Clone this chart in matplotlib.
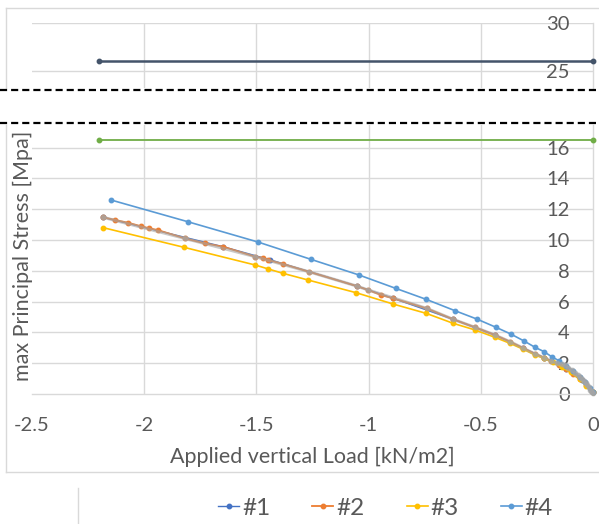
import matplotlib
matplotlib.use("Agg")
import matplotlib.pyplot as plt
from matplotlib.lines import Line2D

plt.rcParams['font.family'] = ['Lato', 'DejaVu Sans']

# ---- data -------------------------------------------------------------
x_ticks = [-2.5, -2, -1.5, -1, -0.5, 0]
x_tick_labels = ['-2.5', '-2', '-1.5', '-1', '-0.5', '0']
y_ticks_low = [0, 2, 4, 6, 8, 10, 12, 14, 16]
y_ticks_high = [25, 30]

series_names = ['#1', '#2', '#3', '#4']

# #1
x1 = [-2.182, -1.647, -1.44, -1.053, -0.89, -0.623, -0.437, -0.31, -0.218, -0.12, -0.05, 0.0]
y1 = [11.47, 9.56, 8.72, 7.01, 6.21, 4.85, 3.83, 2.97, 2.36, 1.6, 0.9, 0.15]

# #2
x2 = [-2.182, -2.13, -2.071, -2.016, -1.977, -1.94, -1.818, -1.729, -1.647, -1.506,
      -1.47, -1.448, -1.381, -1.266, -1.053, -1.001, -0.945, -0.89, -0.741, -0.623,
      -0.526, -0.437, -0.37, -0.31, -0.258, -0.218, -0.189, -0.15, -0.12, -0.09,
      -0.06, -0.03, 0.0]
y2 = [11.47, 11.3, 11.12, 10.9, 10.76, 10.65, 10.1, 9.78, 9.56, 8.92,
      8.83, 8.7, 8.44, 7.94, 7.01, 6.75, 6.43, 6.21, 5.56, 4.85,
      4.33, 3.83, 3.4, 2.97, 2.6, 2.36, 2.16, 1.88, 1.6, 1.3,
      0.98, 0.6, 0.15]

# #3
x3 = [-2.182, -1.821, -1.506, -1.447, -1.38, -1.269, -1.056, -0.89, -0.744, -0.623,
      -0.526, -0.437, -0.37, -0.31, -0.258, -0.218, -0.18, -0.14, -0.1, -0.06,
      -0.03, 0.0]
y3 = [10.8, 9.52, 8.38, 8.12, 7.83, 7.4, 6.58, 5.84, 5.24, 4.59,
      4.16, 3.68, 3.29, 2.9, 2.53, 2.31, 2.05, 1.75, 1.4, 0.95,
      0.55, 0.12]

# #4
x4 = [-2.148, -1.806, -1.493, -1.258, -1.043, -0.879, -0.744, -0.615, -0.518, -0.432,
      -0.367, -0.307, -0.258, -0.218, -0.184, -0.15, -0.12, -0.09, -0.06, -0.035,
      -0.015, 0.0]
y4 = [12.6, 11.19, 9.87, 8.75, 7.73, 6.86, 6.15, 5.41, 4.87, 4.33,
      3.9, 3.44, 3.03, 2.75, 2.42, 2.15, 1.85, 1.5, 1.12, 0.75,
      0.4, 0.1]

# dense grey run
x5 = [-2.182, -1.818, -1.506, -1.266, -1.053, -1.001, -0.741, -0.623, -0.526, -0.437,
      -0.37, -0.31, -0.258, -0.218, -0.189, -0.16, -0.14, -0.125, -0.11, -0.095,
      -0.08, -0.068, -0.058, -0.048, -0.04, -0.032, -0.025, -0.019, -0.013, -0.008,
      -0.004, 0.0]
y5 = [11.47, 10.1, 8.92, 7.94, 7.01, 6.75, 5.56, 4.85, 4.33, 3.83,
      3.4, 2.97, 2.6, 2.36, 2.16, 2.0, 1.93, 1.88, 1.72, 1.55,
      1.38, 1.24, 1.12, 0.98, 0.86, 0.72, 0.6, 0.45, 0.26, 0.17,
      0.1, 0.05]

# horizontal limit lines
x_limit = [-2.2, 0.0]
y_limit_green = [16.5, 16.5]
y_limit_dark = [26.0, 26.0]

# ---- styling ----------------------------------------------------------
C1, C2, C3, C4, C5 = '#4472C4', '#ED7D31', '#FFC000', '#5B9BD5', '#A5A5A5'
C_GREEN, C_DARK = '#70AD47', '#44546A'
GRID = '#D9D9D9'
TXT = '#595959'
TICK_FS = 14.5
TITLE_FS = 15.5

W, H = 599, 524
fig = plt.figure(figsize=(W / 100, H / 100), dpi=100)


def fx(px):
    return px / W


def fy(py):
    return 1 - py / H


left, right = 32, 593
ax_lo = fig.add_axes([fx(left), fy(394), fx(right) - fx(left), fy(125) - fy(394)])
ax_hi = fig.add_axes([fx(left), fy(88), fx(right) - fx(left), fy(23) - fy(88)])

for ax in (ax_lo, ax_hi):
    ax.set_xlim(-2.5, 0)
    ax.set_xticks(x_ticks)
    for s in ('left', 'top', 'bottom'):
        ax.spines[s].set_visible(False)
    ax.spines['right'].set_color(GRID)
    ax.spines['right'].set_linewidth(1.0)
    ax.yaxis.tick_right()
    ax.tick_params(axis='y', length=0, pad=-16.6, labelsize=TICK_FS,
                   labelcolor=TXT, right=False, labelright=True, labelleft=False)
    ax.set_axisbelow(True)

# vertical grid lines (skip the left-most limit)
for ax in (ax_lo, ax_hi):
    for xv in x_ticks[1:-1]:
        ax.axvline(xv, color=GRID, lw=1.0, zorder=0)

# lower panel
ax_lo.set_ylim(0, 17.47)
ax_lo.set_yticks(y_ticks_low)
ax_lo.set_yticklabels([str(v) for v in y_ticks_low])
for yv in y_ticks_low[1:]:
    ax_lo.axhline(yv, color=GRID, lw=1.0, zorder=0)
ax_lo.spines['bottom'].set_visible(True)
ax_lo.spines['bottom'].set_color(GRID)
ax_lo.spines['bottom'].set_linewidth(1.0)
ax_lo.set_xticklabels(x_tick_labels)
ax_lo.tick_params(axis='x', length=0, pad=16.5, labelsize=TICK_FS, labelcolor=TXT)

# upper panel
ax_hi.set_ylim(23.23, 30.02)
ax_hi.set_yticks(y_ticks_high)
ax_hi.set_yticklabels([str(v) for v in y_ticks_high])
for yv in y_ticks_high:
    ax_hi.axhline(yv, color=GRID, lw=1.0, zorder=0)
ax_hi.tick_params(axis='x', length=0, labelbottom=False)

for ax in (ax_lo, ax_hi):
    for lbl in ax.get_yticklabels():
        lbl.set_horizontalalignment('right')

mk = dict(marker='o', markersize=3.2, clip_on=False)
h1, = ax_lo.plot(x1, y1, color=C1, lw=1.0, zorder=3, label=series_names[0], **mk)
h2, = ax_lo.plot(x2, y2, color=C2, lw=1.3, zorder=4, label=series_names[1], **mk)
h3, = ax_lo.plot(x3, y3, color=C3, lw=1.2, zorder=4, label=series_names[2], **mk)
h4, = ax_lo.plot(x4, y4, color=C4, lw=1.2, zorder=5, label=series_names[3], **mk)
ax_lo.plot(x5, y5, color=C5, lw=2.2, alpha=0.6, zorder=6, **mk)
ax_lo.plot(x_limit, y_limit_green, color=C_GREEN, lw=1.3, zorder=6, **mk)
ax_hi.plot(x_limit, y_limit_dark, color=C_DARK, lw=1.8, zorder=6, **mk)

# axis titles
ax_lo.set_xlabel('Applied vertical Load [kN/m2]', fontsize=TITLE_FS, color=TXT, va='center')
ax_lo.xaxis.set_label_coords(0.5, (394 - 457) / 269)
ax_lo.yaxis.set_label_position('left')
ax_lo.set_ylabel('max Principal Stress [Mpa]', fontsize=TITLE_FS, color=TXT,
                 va='center', ha='center')
ax_lo.yaxis.set_label_coords((23 - left) / (right - left), (394 - 256) / 269)

# legend
leg_fs = 17.5
leg_px = leg_fs * 100 / 72
fig.legend(handles=[h1, h2, h3, h4], labels=series_names, loc='center left',
           bbox_to_anchor=(fx(218), fy(508)), ncol=4, frameon=False,
           fontsize=leg_fs, labelcolor=TXT, borderpad=0, borderaxespad=0,
           handlelength=21 / leg_px, handletextpad=3 / leg_px,
           columnspacing=42 / leg_px, markerscale=1.0)

# chart-area borders and the axis break
frame_kw = dict(color=GRID, lw=1.0, transform=fig.transFigure)
fig.add_artist(Line2D([fx(6), fx(6)], [fy(8), fy(88)], **frame_kw))
fig.add_artist(Line2D([fx(6), 1.0], [fy(8), fy(8)], **frame_kw))
fig.add_artist(Line2D([fx(6), fx(6)], [fy(125), fy(472)], **frame_kw))
fig.add_artist(Line2D([fx(6), 1.0], [fy(472), fy(472)], **frame_kw))
fig.add_artist(Line2D([fx(78), fx(78)], [fy(488), 0.0], **frame_kw))

dash_kw = dict(color='black', lw=1.6, linestyle=(0, (3.2, 1.8)),
               transform=fig.transFigure)
fig.add_artist(Line2D([0, 1], [fy(90), fy(90)], **dash_kw))
fig.add_artist(Line2D([0, 1], [fy(123), fy(123)], **dash_kw))

fig.savefig('out.png', dpi=100)
